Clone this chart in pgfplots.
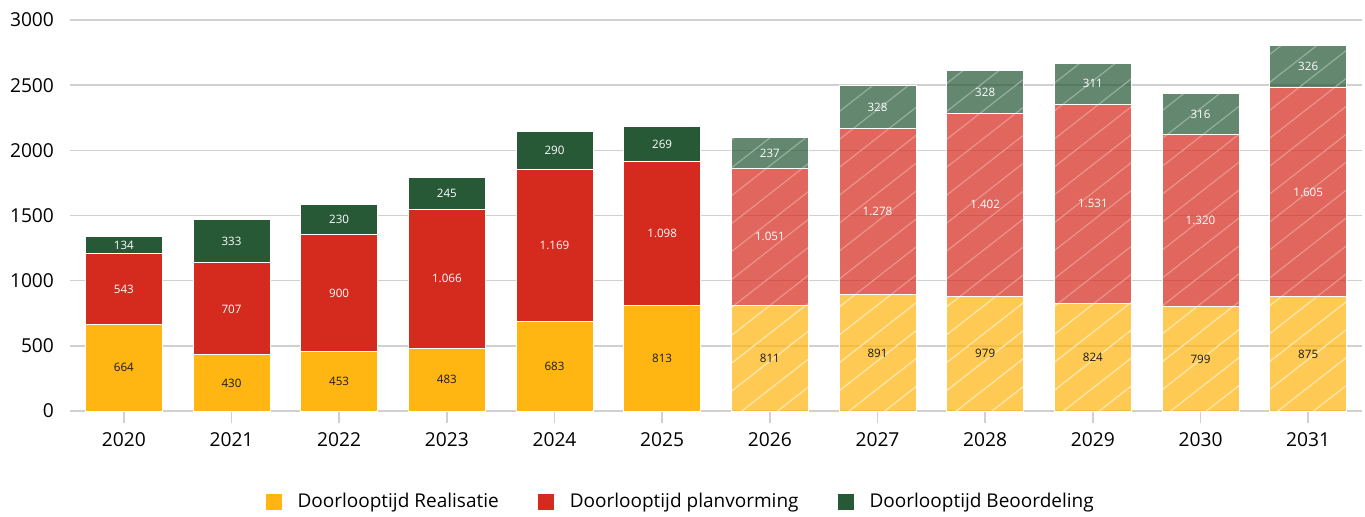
\documentclass[border=0pt]{standalone}
\usepackage{pgfplots}
\pgfplotsset{compat=1.18}
\usepackage{pgfplotstable}
\usetikzlibrary{patterns.meta}
\usepackage{fontspec}
\setmainfont{Open Sans}
\definecolor{cY}{HTML}{FFB612}
\definecolor{cR}{HTML}{D52B1E}
\definecolor{cG}{HTML}{275937}
\definecolor{gridc}{HTML}{D0D0D0}
% realv = height drawn in the chart, real = printed label
\pgfplotstableread{
x realv real plan beo
0 664 664 543 134
1 430 430 707 333
2 453 453 900 230
3 483 483 1066 245
4 683 683 1169 290
5 813 813 1098 269
6 811 811 1051 237
7 891 891 1278 328
8 882 979 1402 328
9 824 824 1531 311
10 799 799 1320 316
11 875 875 1605 326
}\data
\tikzset{hatch/.style={fill opacity=0.72, postaction={fill opacity=1, pattern={Lines[angle=38,distance=11pt,line width=0.65pt]}, pattern color=#1}}}
\begin{document}
\begin{tikzpicture}
\useasboundingbox (-35pt,-52.5pt) rectangle (647.5pt,205.5pt);
\pgfplotsset{common/.style={
  scale only axis, width=646pt, height=195.5pt,
  xmin=-0.5, xmax=11.5, ymin=0, ymax=3000,
  /pgf/number format/assume math mode=true,
}}
\begin{axis}[common,
  ybar stacked, bar width=38.5pt,
  axis x line*=bottom, axis y line*=left,
  y axis line style={draw=none},
  x axis line style={gridc, line width=0.75pt},
  ytick={0,500,...,3000},
  ytick style={draw=none},
  xtick={0,...,11},
  xticklabels={2020,2021,2022,2023,2024,2025,2026,2027,2028,2029,2030,2031},
  xtick style={gridc, line width=0.75pt},
  tick align=outside, major tick length=6pt,
  yticklabel style={/pgf/number format/1000 sep={}, xshift=1.5pt},
  xticklabel style={yshift=-1.5pt},
  tick label style={font=\fontsize{9.6}{11}\selectfont, text=black},
  ymajorgrids, grid style={gridc, line width=0.75pt},
  legend style={at={(0.473,-0.233)}, anchor=center, draw=none, legend columns=3,
    font=\fontsize{9.5}{11}\selectfont,
    /tikz/every even column/.append style={column sep=17pt}},
  legend image code/.code={\fill[#1,fill opacity=1] (0pt,-4.25pt) rectangle (8.5pt,4.25pt); \path (14pt,0);},
]
\addplot[fill=cY, draw=white, line width=0.5pt] table[x=x, y expr={\thisrow{x}<5.5 ? \thisrow{realv} : 0}] {\data};
\addplot[fill=cR, draw=white, line width=0.5pt] table[x=x, y expr={\thisrow{x}<5.5 ? \thisrow{plan} : 0}] {\data};
\addplot[fill=cG, draw=white, line width=0.5pt] table[x=x, y expr={\thisrow{x}<5.5 ? \thisrow{beo} : 0}] {\data};
\addplot[fill=cY, draw=white, line width=0.5pt, hatch=cY!35!white] table[x=x, y expr={\thisrow{x}>5.5 ? \thisrow{realv} : 0}] {\data};
\addplot[fill=cR, draw=white, line width=0.5pt, hatch=cR!52!white] table[x=x, y expr={\thisrow{x}>5.5 ? \thisrow{plan} : 0}] {\data};
\addplot[fill=cG, draw=white, line width=0.5pt, hatch=cG!50!white] table[x=x, y expr={\thisrow{x}>5.5 ? \thisrow{beo} : 0}] {\data};
\legend{Doorlooptijd Realisatie, Doorlooptijd planvorming, Doorlooptijd Beoordeling}
\end{axis}
\begin{axis}[common, hide axis,
  nodes near coords,
  every node near coord/.append style={anchor=center, font=\fontsize{5.8}{7}\selectfont},
  /pgf/number format/1000 sep={.},
]
\addplot[draw=none, mark=none, nodes near coords, every node near coord/.append style={text=black!90}, point meta=\thisrow{real}] table[x=x, y expr={\thisrow{realv}/2}] {\data};
\addplot[draw=none, mark=none, nodes near coords, every node near coord/.append style={text=white}, point meta=\thisrow{plan}] table[x=x, y expr={\thisrow{realv}+\thisrow{plan}/2}] {\data};
\addplot[draw=none, mark=none, nodes near coords, every node near coord/.append style={text=white}, point meta=\thisrow{beo}] table[x=x, y expr={\thisrow{realv}+\thisrow{plan}+\thisrow{beo}/2}] {\data};
\end{axis}
\end{tikzpicture}
\end{document}
